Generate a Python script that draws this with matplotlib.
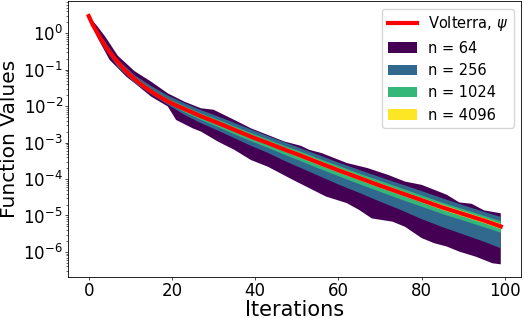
import numpy as np
import matplotlib
matplotlib.use("Agg")
import matplotlib.pyplot as plt

# values are log10 of the function value at the listed iterations

# Volterra, psi
psi_iters = [0, 1, 2, 3, 4, 5, 6, 7, 9, 11, 13, 15, 17, 19, 21, 23, 27, 31, 35, 39, 43, 47, 51,
             55, 60, 65, 70, 75, 80, 85, 90, 95, 99]
psi_log = [0.47, 0.22, 0.02, -0.18, -0.36, -0.52, -0.66, -0.8, -1.05, -1.26, -1.44, -1.6, -1.74,
           -1.87, -1.98, -2.08, -2.28, -2.46, -2.65, -2.84, -3.01, -3.19, -3.36, -3.54, -3.76,
           -3.97, -4.18, -4.38, -4.58, -4.78, -4.96, -5.14, -5.3]

# n = 64 band edges
n64_hi_iters = [0, 2, 4, 7, 11, 15, 19, 23, 27, 30, 35, 39, 43, 47, 51, 53, 56, 62, 67, 72, 76,
                80, 82, 86, 89, 92, 95, 99]
n64_hi = [0.47, 0.2, -0.1, -0.62, -1.04, -1.33, -1.65, -1.88, -2.06, -2.1, -2.38, -2.61, -2.79,
          -2.97, -3.09, -3.2, -3.29, -3.56, -3.7, -3.89, -4.07, -4.16, -4.25, -4.43, -4.64,
          -4.68, -4.86, -4.94]
n64_lo_iters = [0, 2, 5, 9, 12, 15, 19, 21, 25, 27, 31, 35, 39, 43, 46, 49, 53, 57, 62, 65, 68,
                73, 76, 80, 83, 86, 89, 93, 97, 99]
n64_lo = [0.47, -0.1, -0.73, -1.19, -1.46, -1.74, -2.01, -2.38, -2.61, -2.7, -2.97, -3.2, -3.48,
          -3.66, -3.84, -4.02, -4.25, -4.48, -4.66, -4.85, -5.08, -5.17, -5.31, -5.62, -5.76,
          -5.85, -5.99, -6.13, -6.31, -6.34]

# n = 256, 1024, 4096 band edges
iters = [0, 2, 4, 7, 11, 15, 19, 23, 27, 31, 35, 39, 43, 47, 51, 55, 60, 65, 70, 75, 80, 85, 90, 95, 99]
n256_hi = [0.47, 0.1, -0.25, -0.72, -1.15, -1.45, -1.71, -1.92, -2.11, -2.28, -2.46, -2.64, -2.82,
           -2.99, -3.16, -3.33, -3.55, -3.75, -3.95, -4.14, -4.33, -4.53, -4.72, -4.9, -5.04]
n256_lo = [0.47, -0.06, -0.45, -0.93, -1.36, -1.68, -1.96, -2.24, -2.47, -2.67, -2.88, -3.09, -3.28,
           -3.5, -3.7, -3.9, -4.15, -4.38, -4.62, -4.85, -5.1, -5.32, -5.52, -5.72, -5.9]
n1024_hi = [0.47, 0.06, -0.31, -0.78, -1.2, -1.53, -1.8, -2.0, -2.2, -2.37, -2.55, -2.74, -2.91,
            -3.09, -3.25, -3.43, -3.64, -3.85, -4.05, -4.25, -4.45, -4.65, -4.83, -5.01, -5.16]
n1024_lo = [0.47, -0.02, -0.41, -0.89, -1.32, -1.64, -1.92, -2.17, -2.38, -2.57, -2.77, -2.96, -3.14,
            -3.33, -3.51, -3.7, -3.92, -4.14, -4.35, -4.56, -4.76, -4.96, -5.14, -5.32, -5.47]
n4096_hi = [0.47, 0.04, -0.33, -0.8, -1.22, -1.56, -1.83, -2.04, -2.24, -2.42, -2.6, -2.79, -2.96,
            -3.14, -3.3, -3.48, -3.7, -3.91, -4.12, -4.32, -4.52, -4.71, -4.89, -5.07, -5.23]
n4096_lo = [0.47, 0.0, -0.39, -0.87, -1.3, -1.62, -1.9, -2.12, -2.32, -2.5, -2.7, -2.89, -3.06,
            -3.24, -3.42, -3.6, -3.82, -4.03, -4.24, -4.44, -4.64, -4.85, -5.03, -5.21, -5.37]


def band_polygon(x_lo, lo, x_hi, hi):
    # outline: upper edge left->right, lower edge right->left
    xs = list(x_hi) + list(x_lo)[::-1]
    ys = list(hi) + list(lo)[::-1]
    return np.array(xs), 10 ** np.array(ys)


bands = [
    ("n = 64", n64_lo_iters, n64_lo, n64_hi_iters, n64_hi),
    ("n = 256", iters, n256_lo, iters, n256_hi),
    ("n = 1024", iters, n1024_lo, iters, n1024_hi),
    ("n = 4096", iters, n4096_lo, iters, n4096_hi),
]

fig = plt.figure(figsize=(5.24, 3.18), dpi=100)
ax = fig.add_axes([0.130, 0.130, 0.865, 0.866])

cmap = plt.get_cmap("viridis")
for k, (label, xl, lo, xh, hi) in enumerate(bands):
    px, py = band_polygon(xl, lo, xh, hi)
    ax.fill(px, py, color=cmap(k / (len(bands) - 1)), linewidth=0, label=label)

ax.plot(psi_iters, 10 ** np.array(psi_log), color="red", linewidth=3, label=r"Volterra, $\psi$")

ax.set_yscale("log")
ax.set_xlim(-4.95, 103.95)
ax.set_ylim(2.1e-7, 7.5)
ax.set_xticks([0, 20, 40, 60, 80, 100])
ax.tick_params(axis="both", which="major", labelsize=12, length=2, width=0.5, pad=1.8)
ax.tick_params(axis="both", which="minor", length=1.2, width=0.4)
for sp in ax.spines.values():
    sp.set_linewidth(0.6)
ax.set_xlabel("Iterations", fontsize=15, labelpad=0)
ax.set_ylabel("Function Values", fontsize=14.5, labelpad=3)

handles, labels = ax.get_legend_handles_labels()
order = [4, 0, 1, 2, 3]
ax.legend([handles[i] for i in order], [labels[i] for i in order],
          loc="upper right", fontsize=10.5)

fig.savefig("out.png", dpi=100)
